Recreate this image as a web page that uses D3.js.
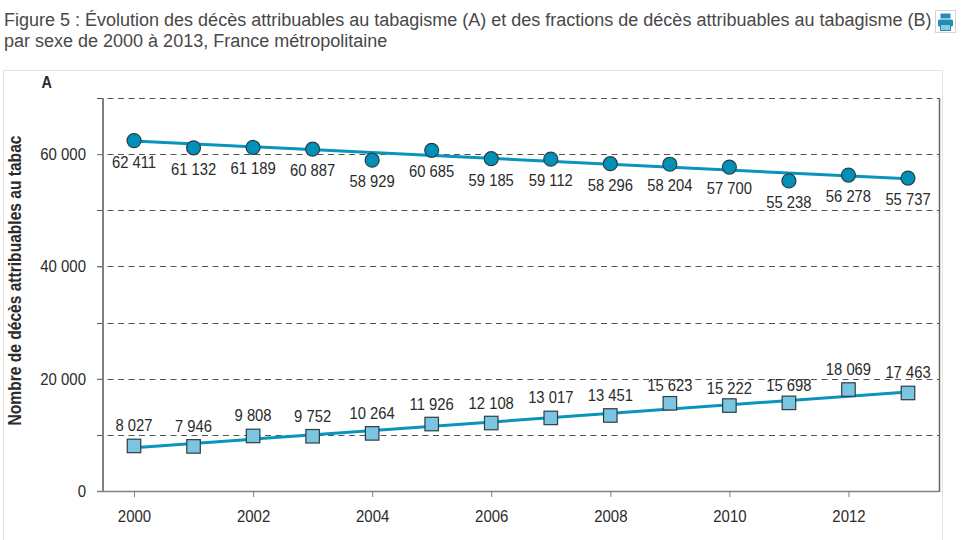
<!DOCTYPE html>
<html lang="fr">
<head>
<meta charset="utf-8">
<title>Décès attribuables au tabagisme</title>
<script src="https://cdn.jsdelivr.net/npm/d3@7"></script>
<style>
html,body{margin:0;padding:0;background:#fff;overflow:hidden}
svg{display:block}
.title{font:18px "Liberation Sans",Arial,sans-serif;fill:#484848}
.num{font-family:"Liberation Sans",sans-serif;font-size:17px;fill:#2b2b2b}
.bold{font-family:"Liberation Sans",sans-serif;font-weight:700;fill:#2b2b2b}
</style>
</head>
<body>
<svg id="chart" width="962" height="540"></svg>
<script>
const years = d3.range(2000, 2014);
const xTickYears = [2000, 2002, 2004, 2006, 2008, 2010, 2012];
const yTicks = [0, 10000, 20000, 30000, 40000, 50000, 60000, 70000];
const yLabelled = [0, 20000, 40000, 60000];

const upperValues = [62411, 61132, 61189, 60887, 58929, 60685, 59185, 59112, 58296, 58204, 57700, 55238, 56278, 55737];
const lowerValues = [8027, 7946, 9808, 9752, 10264, 11926, 12108, 13017, 13451, 15623, 15222, 15698, 18069, 17463];

// Fitted trend through each series, given by its values at both ends of the period
const trendYears = [2000, 2013];
const upperTrend = [62350, 55600];
const lowerTrend = [7700, 17650];

// Labels that sit closer to their square than the others
const closeLabelYears = [2009, 2010, 2011];

const titleLines = [
  "Figure 5 : Évolution des décès attribuables au tabagisme (A) et des fractions de décès attribuables au tabagisme (B)",
  "par sexe de 2000 à 2013, France métropolitaine"
];
const panelLetter = "A";
const yAxisTitle = "Nombre de décès attribuables au tabac";

const LINE = "#0a93bb", CIRCLE = "#0090b8", SQUARE = "#7cc5e0", AXIS = "#808080", INK = "#2b2b2b";

const fmt = v => d3.format(",")(v).replace(",", " ");
const plot = {left: 103, right: 939.5, top: 98, bottom: 491};

const svg = d3.select("#chart");

// Squeeze a text horizontally, the chart's labels being set in a condensed face
function condense(sel, factor) {
  sel.each(function () {
    const w = this.getComputedTextLength();
    d3.select(this).attr("textLength", w * factor).attr("lengthAdjust", "spacingAndGlyphs");
  });
}

titleLines.forEach((t, i) => {
  svg.append("text").attr("class", "title").attr("x", 4).attr("y", 25.5 + i * 21).text(t);
});

// Print button at the end of the heading
const icon = svg.append("g").attr("transform", "translate(935.5,10.5)");
icon.append("rect").attr("width", 20).attr("height", 22).attr("fill", "#fff").attr("stroke", "#d4d4d4");
icon.append("rect").attr("x", 5).attr("y", 3).attr("width", 10).attr("height", 5).attr("fill", "#1f8db5");
icon.append("rect").attr("x", 2.5).attr("y", 9).attr("width", 15).attr("height", 7).attr("rx", 1.5).attr("fill", "#1f8db5");
icon.append("rect").attr("x", 5).attr("y", 14).attr("width", 10).attr("height", 6).attr("fill", "#8fc8dc").attr("stroke", "#1f8db5");

// Card around the panel, open at the bottom edge of the page
svg.append("path").attr("d", "M3.5,540V70.5H942.5V540").attr("fill", "none").attr("stroke", "#e2e2e2");

const x = d3.scalePoint().domain(years).range([134, 908]);
const y = d3.scaleLinear().domain([0, 70000]).range([plot.bottom, plot.top]);

// Horizontal reference lines
svg.append("g").selectAll("line").data(yTicks.filter(d => d > 0)).join("line")
  .attr("x1", plot.left - 6).attr("x2", plot.right)
  .attr("y1", d => Math.round(y(d)) + 0.5).attr("y2", d => Math.round(y(d)) + 0.5)
  .attr("stroke", "#555").attr("stroke-dasharray", "6 4.5");

// Axes
const yAxis = d3.axisLeft(y).tickValues(yLabelled).tickSize(6).tickFormat(fmt);
const xAxis = d3.axisBottom(x).tickValues(xTickYears).tickSize(6).tickPadding(13).tickFormat(d3.format("d"));

const gy = svg.append("g").attr("transform", `translate(${plot.left},0)`).call(yAxis);
const gx = svg.append("g").attr("transform", `translate(0,${plot.bottom})`).call(xAxis);
[gy, gx].forEach(g => {
  g.selectAll("text").attr("class", "num").attr("fill", INK).call(condense, 0.88);
  g.selectAll("line").attr("stroke", AXIS);
  g.select(".domain").remove();
});
gy.selectAll("text").attr("x", -17);

// Frame: heavier on the left, thin on the right and bottom
svg.append("line").attr("x1", plot.left).attr("x2", plot.left).attr("y1", plot.top).attr("y2", plot.bottom + 0.5)
  .attr("stroke", AXIS).attr("stroke-width", 2);
svg.append("line").attr("x1", plot.right).attr("x2", plot.right).attr("y1", plot.top).attr("y2", plot.bottom + 1)
  .attr("stroke", "#666").attr("stroke-width", 1.5);
svg.append("line").attr("x1", plot.left - 6).attr("x2", plot.right).attr("y1", plot.bottom + 0.5).attr("y2", plot.bottom + 0.5)
  .attr("stroke", AXIS).attr("stroke-width", 1.5);

svg.append("text").attr("class", "bold").attr("x", 41.5).attr("y", 88).attr("font-size", 17).text(panelLetter).call(condense, 0.85);
svg.append("text").attr("class", "bold").attr("font-size", 18)
  .attr("text-anchor", "middle")
  .attr("transform", `translate(21,280.5) rotate(-90)`)
  .text(yAxisTitle).call(condense, 0.865);

// Trend lines
const trendLine = d3.line().x((d, i) => x(trendYears[i])).y(d => y(d));
[upperTrend, lowerTrend].forEach(tr => {
  svg.append("path").attr("d", trendLine(tr)).attr("fill", "none").attr("stroke", LINE).attr("stroke-width", 3);
});

// Markers
svg.append("g").selectAll("circle").data(upperValues).join("circle")
  .attr("cx", (d, i) => x(years[i])).attr("cy", d => y(d)).attr("r", 7)
  .attr("fill", CIRCLE).attr("stroke", "#2c3e46").attr("stroke-width", 1.2);

svg.append("g").selectAll("rect").data(lowerValues).join("rect")
  .attr("x", (d, i) => x(years[i]) - 6.75).attr("y", d => y(d) - 6.75).attr("width", 13.5).attr("height", 13.5)
  .attr("fill", SQUARE).attr("stroke", "#2c3e46").attr("stroke-width", 1.2);

// Value labels: below the circles, above the squares
svg.append("g").selectAll("text").data(upperValues).join("text")
  .attr("class", "num").attr("text-anchor", "middle")
  .attr("x", (d, i) => x(years[i])).attr("y", d => y(d) + 27).text(fmt).call(condense, 0.87);

svg.append("g").selectAll("text").data(lowerValues).join("text")
  .attr("class", "num").attr("text-anchor", "middle")
  .attr("x", (d, i) => x(years[i]))
  .attr("y", (d, i) => y(d) - (closeLabelYears.includes(years[i]) ? 12 : 14.5))
  .text(fmt).call(condense, 0.87);
</script>
</body>
</html>
